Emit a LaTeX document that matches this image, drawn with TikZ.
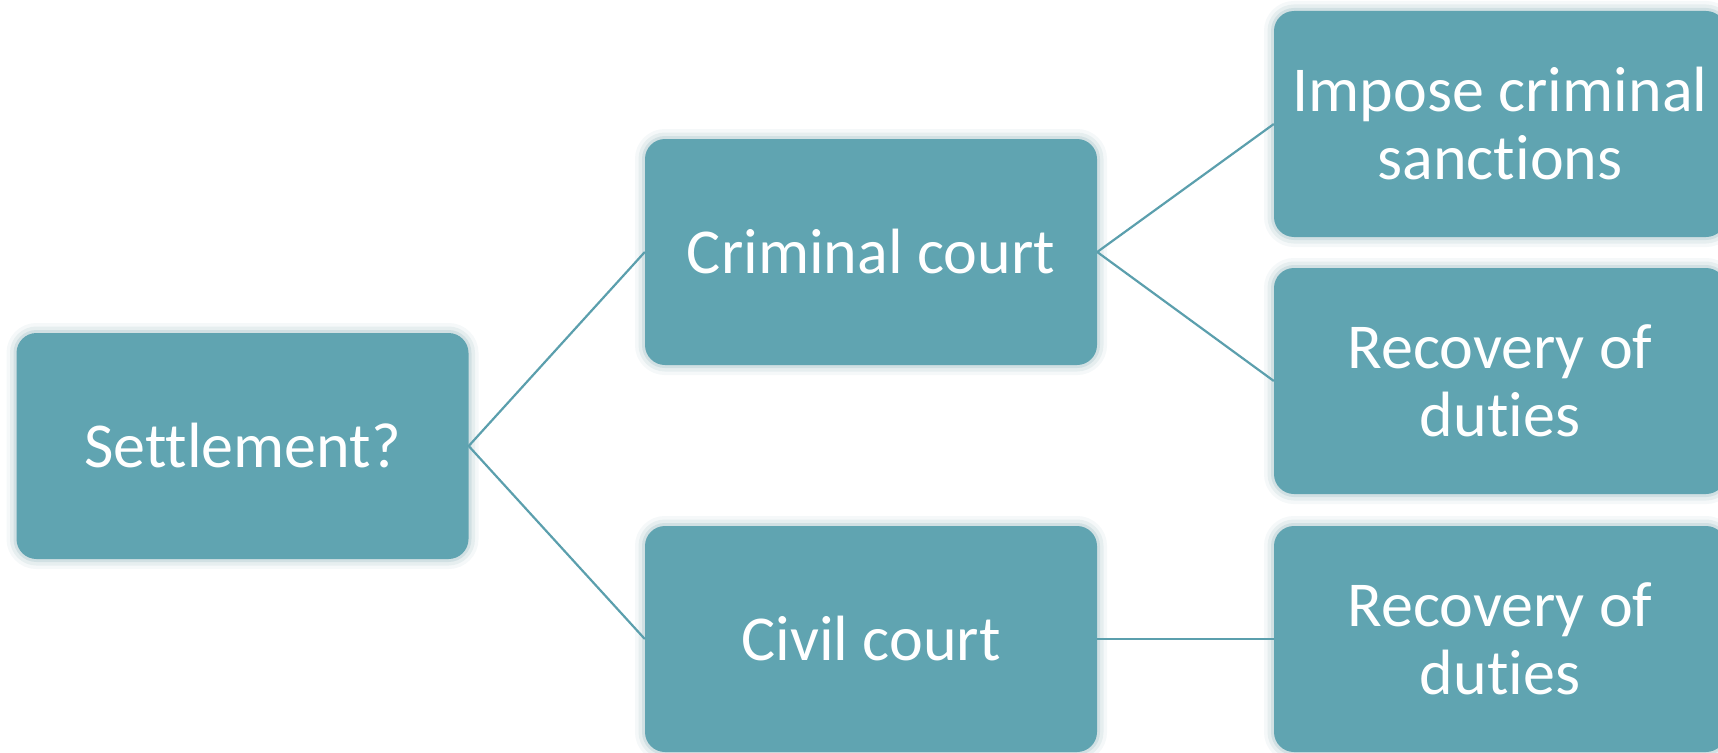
\documentclass[tikz,border=0pt]{standalone}
\usepackage{fontspec}
\setmainfont[Ligatures={NoCommon}]{Carlito}
\definecolor{boxc}{HTML}{60A4B1}
\definecolor{linec}{HTML}{5B9FAD}
\definecolor{glowc}{HTML}{B9CFD4}
\tikzset{
  card/.style={rectangle, rounded corners=20pt, fill=boxc, text=white,
    minimum width=452pt, minimum height=226pt, inner sep=0pt, align=center,
    font=\fontsize{64}{68}\selectfont,
    preaction={draw=glowc, line width=20pt, opacity=0.15},
    preaction={draw=glowc, line width=13pt, opacity=0.25},
    preaction={draw=glowc, line width=6pt, opacity=0.45}},
  link/.style={draw=linec, line width=2.2pt}
}
\begin{document}
\begin{tikzpicture}[x=1pt,y=1pt]
\useasboundingbox (0,0) rectangle (1718,-752);
\clip (0,0) rectangle (1718,-752);
\node[card] (settle) at (242.5,-446) {Settlement?};
\node[card] (crim) at (871,-252) {Criminal court};
\node[card] (civil) at (871,-639) {Civil court};
\node[card] (impose) at (1500,-124) {Impose criminal\\sanctions};
\node[card] (rec1) at (1500,-381) {Recovery of\\duties};
\node[card] (rec2) at (1500,-639) {Recovery of\\duties};
\draw[link] (settle.east) -- (crim.west);
\draw[link] (settle.east) -- (civil.west);
\draw[link] (crim.east) -- (impose.west);
\draw[link] (crim.east) -- (rec1.west);
\draw[link] (civil.east) -- (rec2.west);
\end{tikzpicture}
\end{document}
